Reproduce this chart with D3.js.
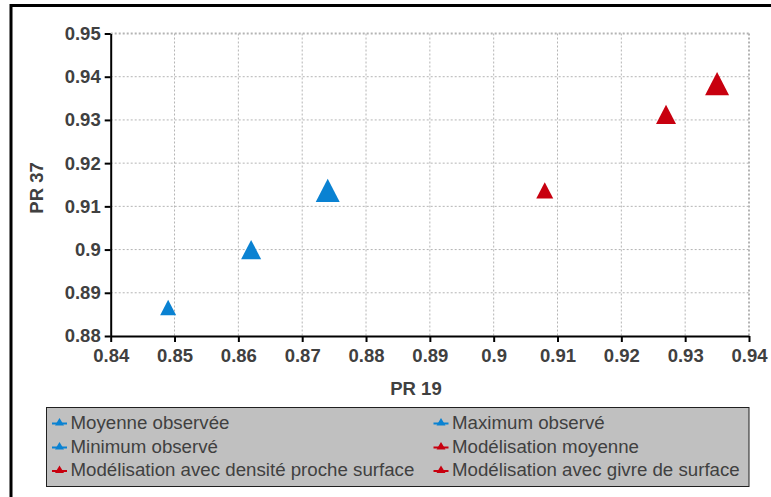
<!DOCTYPE html>
<html>
<head>
<meta charset="utf-8">
<script src="https://cdn.jsdelivr.net/npm/d3@7"></script>
<style>
  body { margin: 0; background: #fff; }
  svg { font-family: 'Liberation Sans', Arial, sans-serif; }
  .tick text { font-size: 18.5px; font-weight: bold; fill: #404040; }
  .axis path, .axis line { stroke: #000; stroke-width: 2px; }
  .grid line { stroke: #b4b4b4; stroke-width: 1px; stroke-dasharray: 2,2; }
  .legend text { font-size: 18.7px; fill: #404040; }
</style>
</head>
<body>
<svg id="chart" width="771" height="497"></svg>
<script>
// series, in legend order
const seriesNames = [
  'Moyenne observée',
  'Maximum observé',
  'Minimum observé',
  'Modélisation moyenne',
  'Modélisation avec densité proche surface',
  'Modélisation avec givre de surface',
];
const seriesColors = ['#0a82d2', '#0a82d2', '#0a82d2', '#c8000f', '#c8000f', '#c8000f'];
const pr19Values = [0.862, 0.874, 0.849, 0.927, 0.908, 0.935];
const pr37Values = [0.900, 0.9137, 0.8866, 0.9313, 0.9137, 0.9384];
const markerWidths = [20, 24, 16, 20, 17, 24];

const xTicks = [0.84, 0.85, 0.86, 0.87, 0.88, 0.89, 0.9, 0.91, 0.92, 0.93, 0.94];
const yTicks = [0.88, 0.89, 0.9, 0.91, 0.92, 0.93, 0.94, 0.95];

const plot = { left: 110.7, right: 749, top: 33.5, bottom: 336 };

const svg = d3.select('#chart');

// outer frame (only top and left edges are visible in the picture)
svg.append('rect')
  .attr('x', 11)
  .attr('y', 5.5)
  .attr('width', 800)
  .attr('height', 520)
  .attr('fill', 'none')
  .attr('stroke', '#000')
  .attr('stroke-width', 3);

const xScale = d3.scaleLinear().domain([0.84, 0.94]).range([plot.left, plot.right]);
const yScale = d3.scaleLinear().domain([0.88, 0.95]).range([plot.bottom, plot.top]);

const fmt = d => String(+d.toFixed(2));

// grid
const grid = svg.append('g').attr('class', 'grid');
grid.selectAll('line.v')
  .data(xTicks.slice(1))
  .enter()
  .append('line')
  .attr('x1', d => xScale(d))
  .attr('x2', d => xScale(d))
  .attr('y1', plot.top)
  .attr('y2', plot.bottom)
  .style('stroke-width', d => (d === 0.94 ? 2 : 1));
grid.selectAll('line.h')
  .data(yTicks.slice(1))
  .enter()
  .append('line')
  .attr('x1', plot.left)
  .attr('x2', plot.right)
  .attr('y1', d => yScale(d))
  .attr('y2', d => yScale(d))
  .style('stroke-width', d => (d === 0.95 ? 2 : 1));

// axes
const xAxis = d3.axisBottom(xScale).tickValues(xTicks).tickFormat(fmt)
  .tickSizeInner(6).tickSizeOuter(0).tickPadding(7);
const yAxis = d3.axisLeft(yScale).tickValues(yTicks).tickFormat(fmt)
  .tickSizeInner(6).tickSizeOuter(0).tickPadding(4);

svg.append('g')
  .attr('class', 'axis axis--x')
  .attr('transform', `translate(0, ${plot.bottom})`)
  .call(xAxis);

svg.append('g')
  .attr('class', 'axis axis--y')
  .attr('transform', `translate(${plot.left}, 0)`)
  .call(yAxis);

// axis titles
svg.append('text')
  .attr('x', 416)
  .attr('y', 395)
  .attr('text-anchor', 'middle')
  .attr('font-size', '18.5px')
  .attr('font-weight', 'bold')
  .attr('fill', '#404040')
  .text('PR 19');

svg.append('g')
  .attr('transform', 'translate(43, 188) rotate(270)')
  .append('text')
  .attr('text-anchor', 'middle')
  .attr('font-size', '18.5px')
  .attr('font-weight', 'bold')
  .attr('fill', '#404040')
  .text('PR 37');

// triangle path centered on its bounding box
const triangle = (w) => {
  const h = w * 0.96;
  return `M0,${-h / 2}L${w / 2},${h / 2}L${-w / 2},${h / 2}Z`;
};

const points = seriesNames.map((name, i) => ({
  name,
  color: seriesColors[i],
  x: pr19Values[i],
  y: pr37Values[i],
  w: markerWidths[i],
}));

svg.append('g')
  .selectAll('path')
  .data(points)
  .enter()
  .append('path')
  .attr('d', d => triangle(d.w))
  .attr('transform', d => `translate(${xScale(d.x)}, ${yScale(d.y)})`)
  .attr('fill', d => d.color);

// legend
const legend = svg.append('g').attr('class', 'legend');
legend.append('rect')
  .attr('x', 46.5)
  .attr('y', 407.5)
  .attr('width', 702.5)
  .attr('height', 79)
  .attr('fill', '#c0c0c0')
  .attr('stroke', '#202020')
  .attr('stroke-width', 1);

const legendCols = [52, 433.5];
const legendRows = [422, 446, 469.5];

const items = legend.selectAll('g.item')
  .data(points)
  .enter()
  .append('g')
  .attr('class', 'item')
  .attr('transform', (d, i) => `translate(${legendCols[i % 2]}, ${legendRows[Math.floor(i / 2)]})`);

items.append('line')
  .attr('x1', 0)
  .attr('x2', 15)
  .attr('y1', 1.5)
  .attr('y2', 1.5)
  .attr('stroke', d => d.color)
  .attr('stroke-width', 2);

items.append('path')
  .attr('d', 'M7.5,-4L12,3.5L3,3.5Z')
  .attr('fill', d => d.color);

items.append('text')
  .attr('x', 18.5)
  .attr('y', 6.5)
  .text(d => d.name);
</script>
</body>
</html>
